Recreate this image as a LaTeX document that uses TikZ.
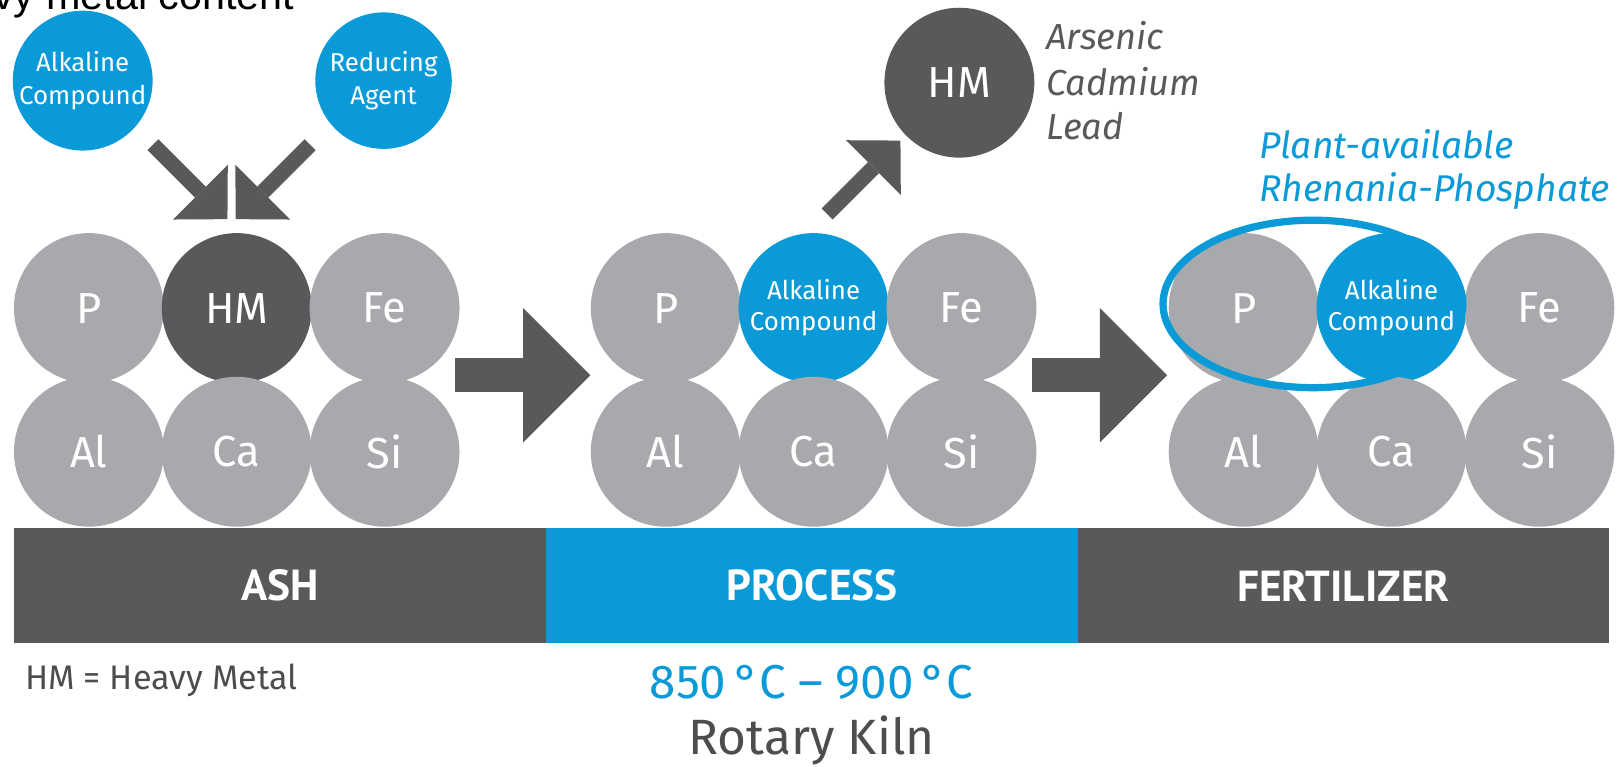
\documentclass[tikz,border=0pt]{standalone}
\usepackage{fontspec}
\setmainfont{Fira Sans}
\newfontfamily\barfont{PT Sans}
\newfontfamily\capfont{Liberation Sans}
\usetikzlibrary{arrows.meta}
\definecolor{cgray}{HTML}{A7A9AC}
\definecolor{cdark}{HTML}{58595B}
\definecolor{cblue}{HTML}{0A9AD7}
\definecolor{ctext}{HTML}{4D4D4F}
\newcommand\myfs[2]{\fontsize{#1}{#2}\selectfont}
\begin{document}
\begin{tikzpicture}[x=1pt,y=1pt,
  atom/.style={circle, fill=cgray, minimum size=145pt, inner sep=0pt, text=white, font=\myfs{42}{42}},
  darkatom/.style={atom, fill=cdark},
  blueatom/.style={atom, fill=cblue, font=\myfs{25}{30}, align=center},
  topball/.style={circle, fill=cblue, minimum size=132pt, inner sep=0pt, text=white, font=\myfs{25}{32}, align=center},
  bararrow/.style={draw=cdark, line width=33pt, -{Triangle[length=65pt 0 0, width=130pt 0 0, line width=0pt 0 0]}},
  diagarrow/.style={draw=cdark, line width=15pt, -{Triangle[length=37pt 0 0, width=75pt 0 0, line width=0pt 0 0]}},
  barseg/.style={minimum height=111pt, inner sep=0pt, text=white, font=\barfont\bfseries\myfs{42}{42}},
  note/.style={inner sep=0pt},
]
\useasboundingbox (0,0) rectangle (1568,741);
\clip (0,0) rectangle (1568,741);

% cut-off heading
\node[note, anchor=base east, font=\capfont\myfs{40}{40}, text=black] (title) at (285,732) {heavy metal content};

% bottom bar
\node[barseg, fill=cdark, minimum width=514pt] (ash) at (271,174.5) {ASH};
\node[barseg, fill=cblue, minimum width=515pt] (proc) at (785.5,174.5) {PROCESS};
\node[barseg, fill=cdark, minimum width=513pt] (fert) at (1299.5,174.5) {FERTILIZER};

% left group
\node[atom] (p1) at (86,443) {P};
\node[darkatom] (hm1) at (229,443) {HM};
\node[atom] (fe1) at (372,443) {Fe};
\node[atom] (al1) at (86,304) {Al};
\node[atom] (ca1) at (229,304) {Ca};
\node[atom] (si1) at (372,304) {Si};

% middle group
\node[atom] (p2) at (644,443) {P};
\node[blueatom] (ac2) at (787,443) {Alkaline\\Compound};
\node[atom] (fe2) at (930,443) {Fe};
\node[atom] (al2) at (644,304) {Al};
\node[atom] (ca2) at (787,304) {Ca};
\node[atom] (si2) at (930,304) {Si};

% right group
\node[atom] (p3) at (1203,443) {P};
\node[blueatom] (ac3) at (1346,443) {Alkaline\\Compound};
\node[atom] (fe3) at (1489,443) {Fe};
\node[atom] (al3) at (1203,304) {Al};
\node[atom] (ca3) at (1346,304) {Ca};
\node[atom] (si3) at (1489,304) {Si};

\draw[cblue, line width=7pt] (1270,447) ellipse [x radius=145, y radius=81];

% top inputs
\node[topball] (alk) at (80,663) {Alkaline\\Compound};
\node[topball] (red) at (371,663) {Reducing\\Agent};
\node[darkatom] (hmtop) at (928,661) {HM};

% arrows
\coordinate (d1s) at (148,601); \coordinate (d1e) at (220,529);
\coordinate (d2s) at (300,601); \coordinate (d2e) at (228,529);
\coordinate (d3s) at (800,534); \coordinate (d3e) at (871,605);
\coordinate (b1s) at (440,378); \coordinate (b1e) at (571,378);
\coordinate (b2s) at (998,378); \coordinate (b2e) at (1129,378);
\draw[diagarrow] (d1s) -- (d1e);
\draw[diagarrow] (d2s) -- (d2e);
\draw[diagarrow] (d3s) -- (d3e);
\draw[bararrow] (b1s) -- (b1e);
\draw[bararrow] (b2s) -- (b2e);

% labels
\node[note, anchor=base west, text=cdark, font=\itshape\myfs{35}{35}] (ars) at (1012,693) {Arsenic};
\node[note, anchor=base west, text=cdark, font=\itshape\myfs{35}{35}] (cad) at (1012,649) {Cadmium};
\node[note, anchor=base west, text=cdark, font=\itshape\myfs{35}{35}] (lead) at (1012,606) {Lead};
\node[note, anchor=base west, text=cblue, font=\itshape\myfs{36}{36}] (plant) at (1218,588) {Plant-available};
\node[note, anchor=base west, text=cblue, font=\itshape\myfs{36}{36}] (rhen) at (1218,546) {Rhenania-Phosphate};

\node[note, anchor=base west, text=ctext, font=\myfs{33}{33}] (hmdef) at (24,74) {HM = Heavy Metal};
\node[note, anchor=base, text=cblue, font=\myfs{46}{46}] (temp) at (785,65) {850\,°C – 900\,°C};
\node[note, anchor=base, text=ctext, font=\myfs{48}{48}] (kiln) at (785,11) {Rotary Kiln};
\end{tikzpicture}
\end{document}
